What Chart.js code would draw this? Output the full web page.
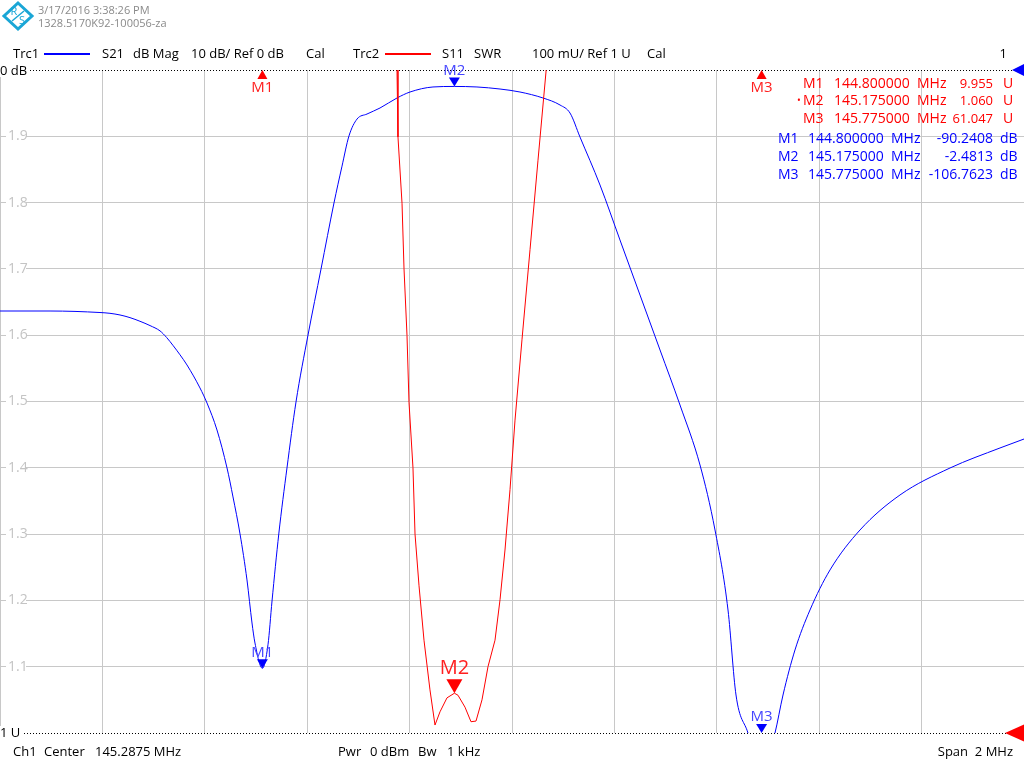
<!DOCTYPE html>
<html>
<head>
<meta charset="utf-8">
<script src="https://cdn.jsdelivr.net/npm/chart.js@4.4.0/dist/chart.umd.min.js"></script>
<style>
  html, body { margin: 0; padding: 0; background: #fff; }
  #wrap { width: 1024px; height: 768px; }
</style>
</head>
<body>
<div id="wrap"><canvas id="vna" width="1024" height="768"></canvas></div>
<script>
const FREQ_START = 144.2875;
const FREQ_STOP = 146.2875;
const FREQ_DIV = 0.2;

// Trc1: S21 dB Mag
const S21_FREQ = [144.2875, 144.3852, 144.4828, 144.5023, 144.5219, 144.5414, 144.5609, 144.5805, 144.6000, 144.6130,
  144.6260, 144.6391, 144.6527, 144.6781, 144.6918, 144.7113, 144.7309, 144.7426, 144.7563, 144.7699, 144.7797,
  144.7855, 144.8000, 144.8109, 144.8188, 144.8320, 144.8480, 144.8656, 144.8891, 144.9145, 144.9398,
  144.9555, 144.9691, 144.9848, 145.0043, 145.0297, 145.0629, 145.0883, 145.1332, 145.1750,
  145.2191, 145.2641, 145.3031, 145.3480, 145.3813, 145.4008, 145.4203, 145.4594, 145.4984, 145.5375,
  145.5766, 145.6156, 145.6547, 145.6840, 145.7094, 145.7250, 145.7484, 145.7750, 145.8012, 145.8168,
  145.8402, 145.8695, 145.9086, 145.9672, 146.0453, 146.1430, 146.2406, 146.2875];
const S21_DB = [-36.35, -36.35, -36.58, -36.70, -36.95, -37.35, -37.90, -38.55, -39.35, -40.35,
  -41.60, -42.96, -44.49, -47.96, -50.23, -54.30, -60.03, -64.40, -69.98, -76.92, -83.41,
  -86.43, -90.24, -86.70, -80.09, -69.98, -60.03, -50.08, -39.97, -30.02, -20.06,
  -14.50, -9.95, -7.40, -6.64, -5.73, -4.22, -3.32, -2.56, -2.48,
  -2.56, -2.87, -3.32, -4.22, -5.28, -6.49, -10.11, -17.35, -25.64, -33.94,
  -42.23, -50.53, -59.58, -69.38, -81.45, -94.27, -100.0, -106.76, -100.0, -94.27,
  -87.48, -81.45, -75.41, -69.38, -64.10, -60.03, -57.01, -55.66];

// Trc2: S11 SWR
const SWR_FREQ = [144.2875, 144.8000, 145.0000, 145.0629, 145.0648, 145.0727, 145.0766, 145.0824, 145.0863, 145.0941,
  145.0981, 145.1059, 145.1156, 145.1273, 145.1371, 145.1469, 145.1605, 145.1750, 145.1820, 145.1957,
  145.2074, 145.2172, 145.2289, 145.2406, 145.2543, 145.2641, 145.2738, 145.2836, 145.2934, 145.3070,
  145.3227, 145.3383, 145.3539, 145.4000, 145.7750, 146.2875];
const SWR_VAL = [30.0, 9.955, 2.60, 2.000, 1.899, 1.799, 1.700, 1.600, 1.499, 1.400,
  1.300, 1.222, 1.140, 1.065, 1.012, 1.032, 1.053, 1.060, 1.057, 1.039,
  1.017, 1.018, 1.050, 1.100, 1.140, 1.201, 1.276, 1.367, 1.472, 1.593,
  1.729, 1.864, 1.997, 3.00, 61.047, 30.0];

const SWR_TICKS = [1.0, 1.1, 1.2, 1.3, 1.4, 1.5, 1.6, 1.7, 1.8, 1.9, 2.0];

const MARKER_NAMES = ["M1", "M2", "M3"];
const MARKER_FREQ = [144.8, 145.175, 145.775];
const MARKER_S21 = [-90.2408, -2.4813, -106.7623];
const MARKER_SWR = [9.955, 1.060, 61.047];
const MARKER_FREQ_TEXT = ["144.800000", "145.175000", "145.775000"];
const MARKER_S21_TEXT = ["-90.2408", "-2.4813", "-106.7623"];
const MARKER_SWR_TEXT = ["9.955", "1.060", "61.047"];

const BLUE = "#0000ff";
const RED = "#ff0000";
const GRID = "#c8c8c8";
const FONT = "'Open Sans', 'Noto Sans', sans-serif";

function toPoints(xs, ys) {
  return xs.map((x, i) => ({ x: x, y: ys[i] }));
}

function tri(ctx, x, y, w, h, dir, color) {
  ctx.beginPath();
  if (dir === 'down') {
    ctx.moveTo(x, y); ctx.lineTo(x - w / 2, y - h); ctx.lineTo(x + w / 2, y - h);
  } else if (dir === 'up') {
    ctx.moveTo(x, y); ctx.lineTo(x - w / 2, y + h); ctx.lineTo(x + w / 2, y + h);
  } else {
    ctx.moveTo(x, y); ctx.lineTo(x + w, y - h / 2); ctx.lineTo(x + w, y + h / 2);
  }
  ctx.closePath();
  ctx.fillStyle = color;
  ctx.fill();
}

function txt(ctx, s, x, y, size, color, align) {
  ctx.font = size + "px " + FONT;
  ctx.fillStyle = color;
  ctx.textAlign = align || 'left';
  ctx.textBaseline = 'middle';
  ctx.fillText(s, x, y);
}

const vnaPlugin = {
  id: 'vna_overlay',
  beforeDatasetsDraw(chart) {
    const { ctx, chartArea: { left, right, top, bottom } } = chart;
    const y = chart.scales.y;
    ctx.save();
    // tick labels on the grid, inside the diagram
    SWR_TICKS.slice(1, -1).forEach(v => {
      const py = y.getPixelForValue(v);
      ctx.fillStyle = "#fff";
      ctx.fillRect(6, py - 2, 20, 4);
      txt(ctx, v.toFixed(1), 8, py, 14, "#c4c4c4");
    });
    // dotted reference lines
    ctx.strokeStyle = "#000";
    ctx.lineWidth = 1;
    ctx.setLineDash([1, 2]);
    ctx.beginPath();
    ctx.moveTo(30, top + 0.5); ctx.lineTo(right, top + 0.5);
    ctx.moveTo(24, bottom + 0.5); ctx.lineTo(right, bottom + 0.5);
    ctx.stroke();
    ctx.setLineDash([]);
    ctx.restore();
  },
  afterDatasetsDraw(chart) {
    const { ctx, chartArea: { left, right, top, bottom } } = chart;
    const x = chart.scales.x;
    const yDb = chart.scales.yDb;
    const y = chart.scales.y;
    ctx.save();

    // Trc1 markers
    MARKER_NAMES.forEach((name, i) => {
      const px = x.getPixelForValue(MARKER_FREQ[i]);
      const py = Math.min(bottom, Math.max(top, yDb.getPixelForValue(MARKER_S21[i])));
      tri(ctx, px, py, 11, 9, 'down', BLUE);
      txt(ctx, name, px, py - 16, 15, "#4646ff", 'center');
    });

    // Trc2 markers
    MARKER_NAMES.forEach((name, i) => {
      const px = x.getPixelForValue(MARKER_FREQ[i]);
      const py = y.getPixelForValue(MARKER_SWR[i]);
      if (py < top) {
        tri(ctx, px, top, 10, 9, 'up', RED);
        txt(ctx, name, px, top + 18, 15, "#ff2020", 'center');
      } else {
        tri(ctx, px, py, 16, 14, 'down', RED);
        txt(ctx, name, px, py - 25, 20, "#ff2020", 'center');
      }
    });

    // reference position arrows
    tri(ctx, 1012, top, 12, 12, 'left', BLUE);
    tri(ctx, 1005, bottom, 19, 17, 'left', RED);

    // marker info table
    MARKER_NAMES.forEach((name, i) => {
      const ry = 84 + i * 17.5;
      if (i === 1) txt(ctx, "•", 797, ry, 10, RED);
      txt(ctx, name, 803, ry, 14, RED);
      txt(ctx, MARKER_FREQ_TEXT[i], 834, ry, 14, RED);
      txt(ctx, "MHz", 917, ry, 14, RED);
      txt(ctx, MARKER_SWR_TEXT[i], 993, ry, 13, RED, 'right');
      txt(ctx, "U", 1003, ry, 14, RED);
    });
    MARKER_NAMES.forEach((name, i) => {
      const ry = 139 + i * 18;
      txt(ctx, name, 778, ry, 14, BLUE);
      txt(ctx, MARKER_FREQ_TEXT[i], 808, ry, 14, BLUE);
      txt(ctx, "MHz", 891, ry, 14, BLUE);
      txt(ctx, MARKER_S21_TEXT[i], 993, ry, 14, BLUE, 'right');
      txt(ctx, "dB", 1000, ry, 14, BLUE);
    });
    ctx.restore();
  },
  afterDraw(chart) {
    const { ctx, chartArea: { top, bottom } } = chart;
    ctx.save();
    // logo
    ctx.strokeStyle = "#1aa6d6";
    ctx.lineWidth = 3;
    ctx.beginPath();
    ctx.moveTo(18, 3); ctx.lineTo(32, 16); ctx.lineTo(18, 29); ctx.lineTo(4, 16); ctx.closePath();
    ctx.stroke();
    ctx.lineWidth = 1.5;
    ctx.beginPath(); ctx.moveTo(12, 21); ctx.lineTo(24, 11); ctx.stroke();
    txt(ctx, "R", 14, 12, 11, "#1aa6d6", 'center');
    txt(ctx, "S", 22, 21, 11, "#1aa6d6", 'center');
    txt(ctx, "3/17/2016 3:38:26 PM", 38, 11, 11, "#8a8a8a");
    txt(ctx, "1328.5170K92-100056-za", 38, 24, 11, "#8a8a8a");

    // trace headers
    txt(ctx, "Trc1", 13, 54, 13, "#000");
    ctx.fillStyle = BLUE; ctx.fillRect(44, 53, 46, 2);
    txt(ctx, "S21", 102, 54, 13, "#000");
    txt(ctx, "dB Mag", 133, 54, 13, "#000");
    txt(ctx, "10 dB/ Ref 0 dB", 191, 54, 13, "#000");
    txt(ctx, "Cal", 306, 54, 13, "#000");
    txt(ctx, "Trc2", 353, 54, 13, "#000");
    ctx.fillStyle = RED; ctx.fillRect(385, 53, 46, 2);
    txt(ctx, "S11", 442, 54, 13, "#000");
    txt(ctx, "SWR", 474, 54, 13, "#000");
    txt(ctx, "100 mU/ Ref 1 U", 532, 54, 13, "#000");
    txt(ctx, "Cal", 647, 54, 13, "#000");
    txt(ctx, "1", 1007, 54, 13, "#000", 'right');

    // scale references
    ctx.fillStyle = "#fff"; ctx.fillRect(0, top - 7, 30, 14); ctx.fillRect(0, bottom - 7, 24, 14);
    txt(ctx, "0 dB", 0, top + 1, 13, "#000");
    txt(ctx, "1 U", 0, bottom, 13, "#000");

    // channel footer
    txt(ctx, "Ch1", 13, 752, 13, "#000");
    txt(ctx, "Center", 44, 752, 13, "#000");
    txt(ctx, "145.2875 MHz", 95, 752, 13, "#000");
    txt(ctx, "Pwr", 338, 752, 13, "#000");
    txt(ctx, "0 dBm", 370, 752, 13, "#000");
    txt(ctx, "Bw", 418, 752, 13, "#000");
    txt(ctx, "1 kHz", 447, 752, 13, "#000");
    txt(ctx, "Span  2 MHz", 1013, 752, 13, "#000", 'right');
    ctx.restore();
  }
};

const vnaChart = new Chart(document.getElementById('vna'), {
  type: 'line',
  data: {
    datasets: [
      {
        label: 'Trc2 S11 SWR',
        data: toPoints(SWR_FREQ, SWR_VAL),
        yAxisID: 'y',
        borderColor: RED,
        borderWidth: 1,
        pointRadius: 0,
        tension: 0,
        fill: false
      },
      {
        label: 'Trc1 S21 dB Mag',
        data: toPoints(S21_FREQ, S21_DB),
        yAxisID: 'yDb',
        borderColor: BLUE,
        borderWidth: 1,
        pointRadius: 0,
        cubicInterpolationMode: 'monotone',
        fill: false
      }
    ]
  },
  options: {
    responsive: false,
    animation: false,
    devicePixelRatio: 1,
    layout: { padding: { top: 70, bottom: 35, left: 0, right: 0 } },
    plugins: {
      legend: { display: false },
      title: { display: false },
      tooltip: { enabled: false }
    },
    scales: {
      x: {
        type: 'linear',
        min: FREQ_START,
        max: FREQ_STOP,
        afterBuildTicks: (scale) => {
          scale.ticks = Array.from({ length: 11 }, (_, i) => ({ value: FREQ_START + i * FREQ_DIV }));
        },
        ticks: { display: false },
        border: { display: false },
        grid: { color: GRID, drawTicks: false, lineWidth: 1 }
      },
      y: {
        type: 'linear',
        position: 'left',
        min: 1,
        max: 2,
        afterBuildTicks: (scale) => {
          scale.ticks = SWR_TICKS.map(v => ({ value: v }));
        },
        ticks: { display: false },
        border: { display: false },
        grid: {
          drawTicks: false,
          color: (c) => (c.index === 0 || c.index === SWR_TICKS.length - 1) ? 'rgba(0,0,0,0)' : GRID
        }
      },
      yDb: {
        type: 'linear',
        position: 'right',
        min: -100,
        max: 0,
        display: false
      }
    }
  },
  plugins: [vnaPlugin]
});
</script>
</body>
</html>
